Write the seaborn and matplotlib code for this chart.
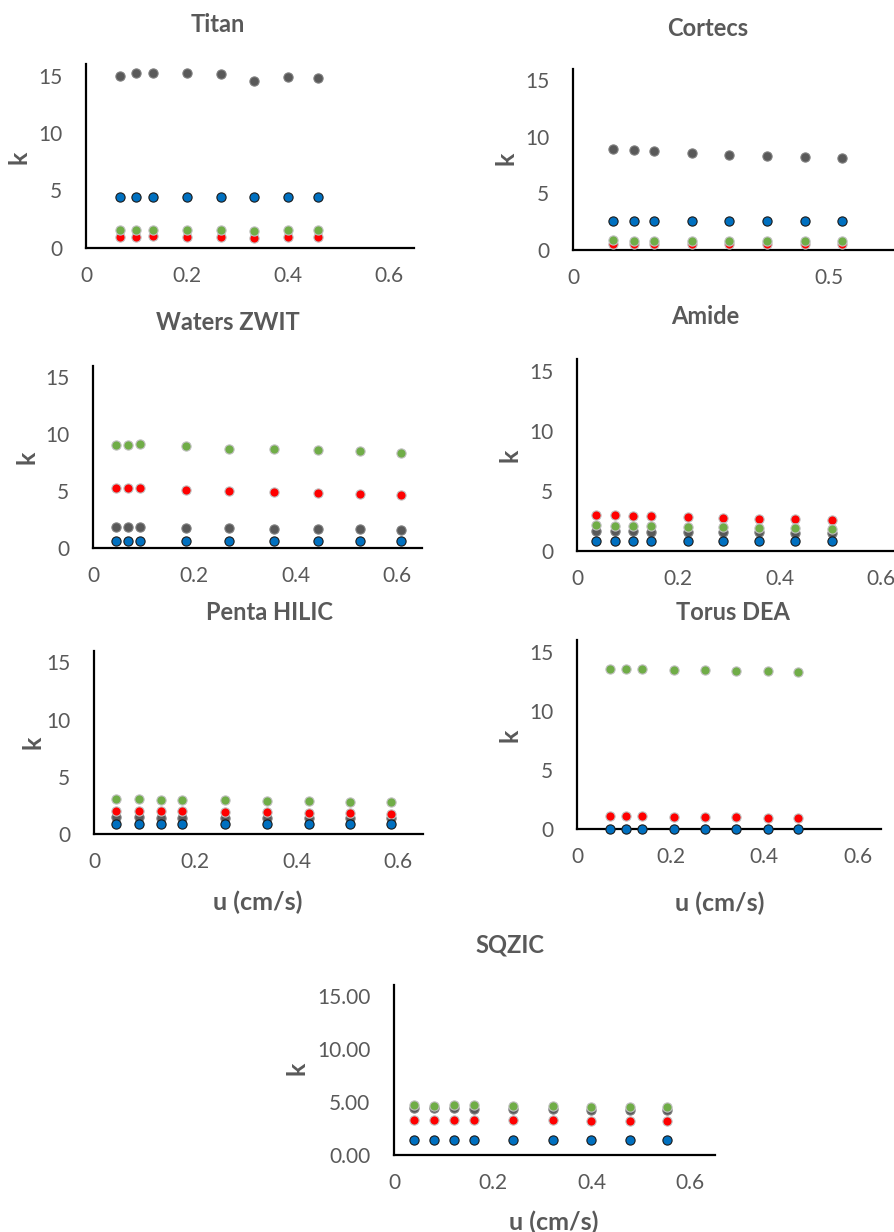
import matplotlib
matplotlib.use("Agg")
import matplotlib.pyplot as plt
import seaborn as sns

# ==========================================
# Data
# ==========================================
titan_u = [0.067, 0.100, 0.133, 0.200, 0.267, 0.333, 0.400, 0.460]
titan_gray = [15.0, 15.2, 15.25, 15.2, 15.1, 14.5, 14.9, 14.8]
titan_red = [0.98, 1.00, 1.02, 1.00, 0.98, 0.90, 0.96, 0.95]
titan_green = [1.54, 1.57, 1.60, 1.58, 1.56, 1.48, 1.55, 1.54]
titan_blue = [4.46, 4.46, 4.46, 4.46, 4.45, 4.44, 4.45, 4.45]

cortecs_u = [0.078, 0.118, 0.157, 0.232, 0.305, 0.379, 0.453, 0.524]
cortecs_gray = [8.91, 8.82, 8.71, 8.59, 8.38, 8.29, 8.21, 8.09]
cortecs_red = [0.55, 0.55, 0.54, 0.53, 0.52, 0.51, 0.50, 0.49]
cortecs_green = [0.84, 0.83, 0.82, 0.82, 0.81, 0.80, 0.80, 0.79]
cortecs_blue = [2.53, 2.53, 2.53, 2.53, 2.52, 2.52, 2.52, 2.52]

waters_u = [0.046, 0.069, 0.092, 0.183, 0.269, 0.357, 0.444, 0.527, 0.609]
waters_gray = [1.84, 1.84, 1.84, 1.78, 1.75, 1.70, 1.70, 1.67, 1.61]
waters_red = [5.29, 5.29, 5.26, 5.12, 5.00, 4.91, 4.82, 4.77, 4.65]
waters_green = [9.06, 9.06, 9.12, 8.98, 8.71, 8.71, 8.63, 8.51, 8.39]
waters_blue = [0.61, 0.61, 0.61, 0.61, 0.61, 0.61, 0.61, 0.61, 0.61]

amide_u = [0.038, 0.075, 0.111, 0.147, 0.219, 0.289, 0.359, 0.430, 0.503]
amide_gray = [1.67, 1.64, 1.64, 1.62, 1.59, 1.59, 1.56, 1.53, 1.53]
amide_red = [3.04, 2.98, 2.95, 2.92, 2.84, 2.79, 2.70, 2.65, 2.56]
amide_green = [2.14, 2.12, 2.09, 2.06, 2.00, 1.98, 1.95, 1.92, 1.87]
amide_blue = [0.81, 0.81, 0.81, 0.81, 0.81, 0.81, 0.81, 0.81, 0.81]

penta_u = [0.043, 0.088, 0.133, 0.173, 0.259, 0.341, 0.424, 0.505, 0.587]
penta_gray = [1.45, 1.45, 1.44, 1.44, 1.42, 1.41, 1.40, 1.38, 1.37]
penta_red = [2.04, 2.04, 2.01, 2.01, 1.95, 1.89, 1.86, 1.81, 1.78]
penta_green = [3.03, 3.03, 3.00, 3.00, 2.97, 2.91, 2.88, 2.82, 2.80]
penta_blue = [0.87, 0.87, 0.87, 0.87, 0.87, 0.87, 0.87, 0.87, 0.87]

torus_u = [0.071, 0.105, 0.140, 0.207, 0.274, 0.341, 0.408, 0.473]
torus_red = [1.10, 1.10, 1.07, 1.04, 1.01, 0.99, 0.96, 0.93]
torus_green = [13.58, 13.55, 13.52, 13.49, 13.44, 13.41, 13.38, 13.30]
torus_blue = [0.0, 0.0, 0.0, 0.0, 0.0, 0.0, 0.0, 0.0]

sqzic_u = [0.041, 0.082, 0.122, 0.161, 0.240, 0.321, 0.398, 0.478, 0.553]
sqzic_gray = [4.40, 4.40, 4.40, 4.37, 4.34, 4.31, 4.28, 4.25, 4.25]
sqzic_red = [3.33, 3.30, 3.33, 3.30, 3.27, 3.27, 3.24, 3.21, 3.18]
sqzic_green = [4.72, 4.62, 4.69, 4.69, 4.62, 4.62, 4.56, 4.53, 4.50]
sqzic_blue = [1.38, 1.38, 1.38, 1.38, 1.38, 1.38, 1.38, 1.38, 1.38]

y_ticks = [0, 5, 10, 15]
u_ticks = [0, 0.2, 0.4, 0.6]
u_tick_labels = ['0', '0.2', '0.4', '0.6']

# ==========================================
# Styling
# ==========================================
W, H = 894, 1232
TXT = '#595959'
STYLE = {
    'gray': dict(color='#595959', edgecolor='#7f7f7f'),
    'red': dict(color='#FF0000', edgecolor='#bfbfbf'),
    'green': dict(color='#70AD47', edgecolor='#bfbfbf'),
    'blue': dict(color='#0070C0', edgecolor='#1a1a1a'),
}

sns.set_theme(style="white")
plt.rcParams['font.family'] = ['Lato', 'DejaVu Sans']

fig = plt.figure(figsize=(W / 100, H / 100), dpi=100)


def px_axes(left, top, right, bottom):
    return fig.add_axes([left / W, 1 - bottom / H, (right - left) / W, (bottom - top) / H])


def panel(rect, u, series, xmax, xticks, xlabels, title, title_xy, k_xy,
          u_xy=None, yfmt=None):
    ax = px_axes(*rect)
    for key, vals in series:
        sns.scatterplot(x=u, y=vals, ax=ax, s=44, linewidth=0.8,
                        clip_on=False, zorder=3, **STYLE[key])
    ax.set_xlim(0, xmax)
    ax.set_ylim(0, 16)
    ax.set_xticks(xticks)
    ax.set_xticklabels(xlabels)
    ax.set_yticks(y_ticks)
    if yfmt:
        ax.set_yticklabels([yfmt.format(t) for t in y_ticks])
    ax.tick_params(length=0, labelsize=15, labelcolor=TXT)
    ax.tick_params(axis='x', pad=13)
    ax.tick_params(axis='y', pad=17)
    for s in ['top', 'right']:
        ax.spines[s].set_visible(False)
    for s in ['left', 'bottom']:
        ax.spines[s].set_color('black')
        ax.spines[s].set_linewidth(1.6)
    ax.set_facecolor('none')
    ax.set_xlabel('')
    ax.set_ylabel('')
    fig.text(title_xy[0] / W, 1 - title_xy[1] / H, title, ha='center', va='center',
             fontsize=17, fontweight='bold', color=TXT)
    fig.text(k_xy[0] / W, 1 - k_xy[1] / H, 'k', ha='center', va='center',
             fontsize=18, fontweight='bold', color=TXT, rotation=90)
    if u_xy:
        fig.text(u_xy[0] / W, 1 - u_xy[1] / H, 'u (cm/s)', ha='center', va='center',
                 fontsize=18, fontweight='bold', color=TXT)
    return ax


panel((86, 64, 414, 248), titan_u,
      [('gray', titan_gray), ('red', titan_red), ('green', titan_green), ('blue', titan_blue)],
      0.65, u_ticks, u_tick_labels, 'Titan', (218, 24), (19, 157))

panel((573, 69, 932, 250), cortecs_u,
      [('gray', cortecs_gray), ('red', cortecs_red), ('green', cortecs_green), ('blue', cortecs_blue)],
      0.7, [0, 0.5], ['0', '0.5'], 'Cortecs', (708, 28), (506, 158))

panel((93, 366, 422, 548), waters_u,
      [('gray', waters_gray), ('red', waters_red), ('green', waters_green), ('blue', waters_blue)],
      0.65, u_ticks, u_tick_labels, 'Waters ZWIT', (228, 323), (27, 457))

panel((577, 359, 906, 551), amide_u,
      [('gray', amide_gray), ('red', amide_red), ('green', amide_green), ('blue', amide_blue)],
      0.65, u_ticks, u_tick_labels, 'Amide', (705, 316), (510, 455))

panel((94, 651, 423, 834), penta_u,
      [('gray', penta_gray), ('red', penta_red), ('green', penta_green), ('blue', penta_blue)],
      0.65, u_ticks, u_tick_labels, 'Penta HILIC', (270, 613), (33, 742),
      u_xy=(258, 902))

panel((577, 640, 881, 829), torus_u,
      [('red', torus_red), ('green', torus_green), ('blue', torus_blue)],
      0.65, u_ticks, u_tick_labels, 'Torus DEA', (733, 613), (510, 735),
      u_xy=(720, 903))

panel((394, 985, 715, 1155), sqzic_u,
      [('gray', sqzic_gray), ('red', sqzic_red), ('green', sqzic_green), ('blue', sqzic_blue)],
      0.65, u_ticks, u_tick_labels, 'SQZIC', (510, 945), (297, 1068),
      u_xy=(554, 1222), yfmt='{:.2f}')

fig.savefig('out.png', dpi=100)
